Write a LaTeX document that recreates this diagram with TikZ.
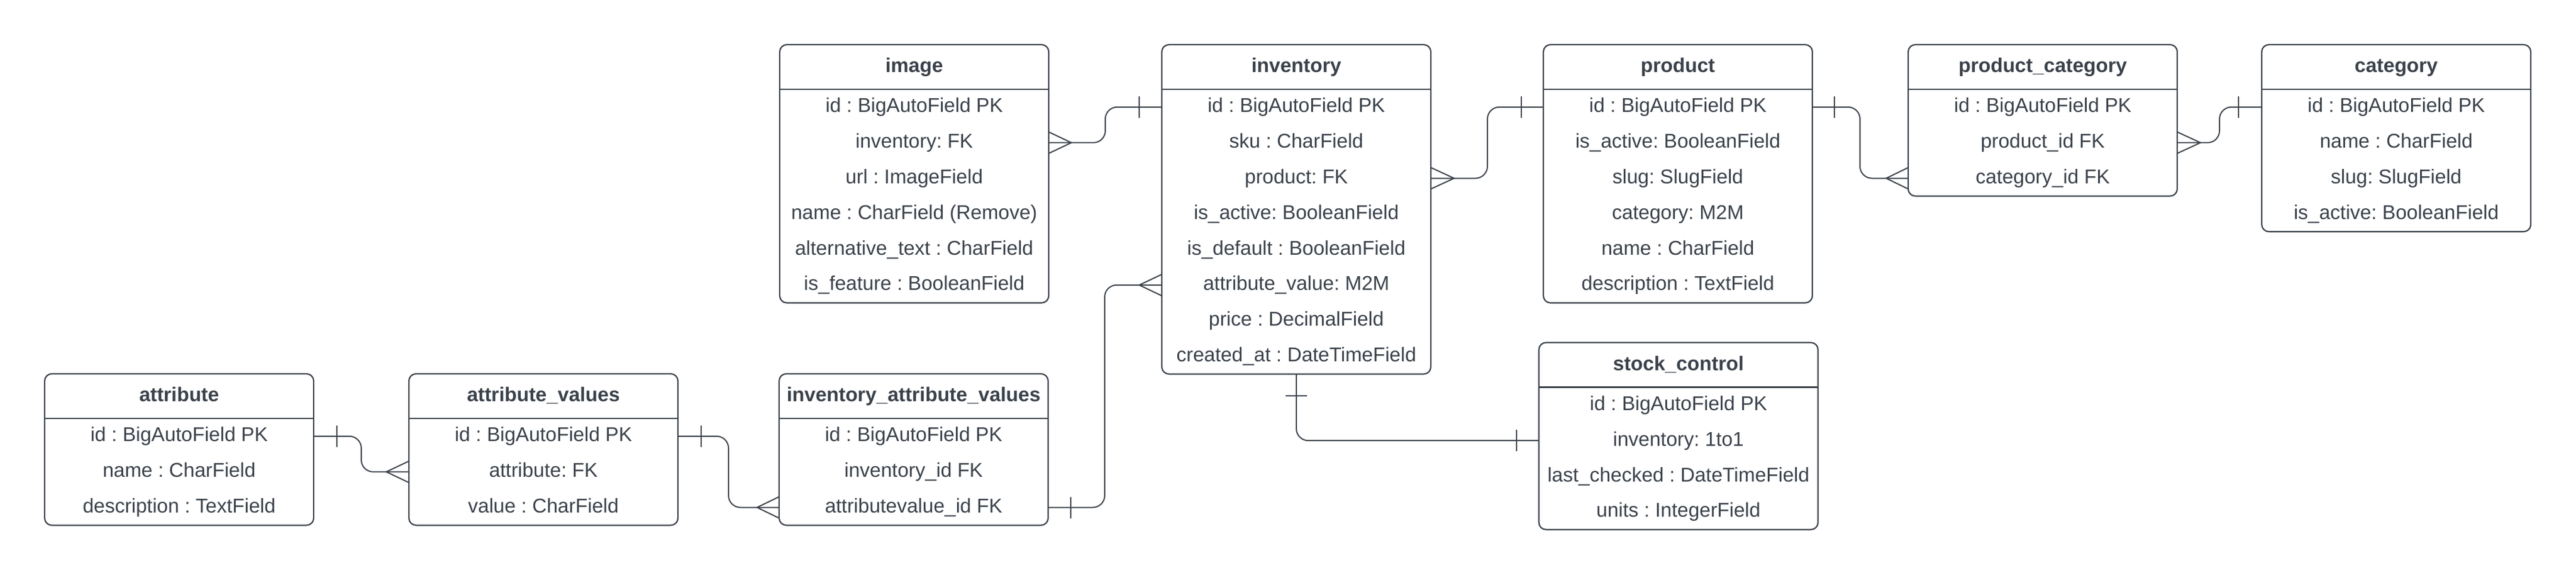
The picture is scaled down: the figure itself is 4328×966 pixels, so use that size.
\documentclass[tikz,border=0pt]{standalone}
\usepackage{fontspec}
\setmainfont{Liberation Sans}
\usetikzlibrary{positioning}
\definecolor{erdink}{HTML}{3A414A}
\frenchspacing

\begin{document}
\begin{tikzpicture}[x=1pt, y=-1pt,
	tablehead/.style={minimum width=452pt, minimum height=75pt, inner sep=0pt, outer sep=0pt, text=erdink,
		font=\fontsize{33.5}{40}\selectfont\bfseries, text height=25pt, text depth=7pt},
	tablerow/.style={minimum width=452pt, minimum height=59.8pt, inner sep=0pt, outer sep=0pt, text=erdink,
		font=\fontsize{33.5}{40}\selectfont, text height=25pt, text depth=7pt},
	tableframe/.style={draw=erdink, line width=2.2pt, rounded corners=12pt},
	tablesep/.style={draw=erdink, line width=2.8pt},
	link/.style={draw=erdink, line width=2pt}]
			\useasboundingbox (0,0) rectangle (4328,966);

			% Table image
			\node[tablehead] (img) at (1536, 112.5) {image};
			\node[tablerow, below=0pt of img] (img-1) {id : BigAutoField PK};
			\node[tablerow, below=0pt of img-1] (img-2) {inventory: FK};
			\node[tablerow, below=0pt of img-2] (img-3) {url : ImageField};
			\node[tablerow, below=0pt of img-3] (img-4) {name : CharField (Remove)};
			\node[tablerow, below=0pt of img-4] (img-5) {alternative\_text : CharField};
			\node[tablerow, below=0pt of img-5] (img-6) {is\_feature : BooleanField};
			\draw[tableframe] (img.north west) rectangle (img-6.south east);
			\draw[tablesep] (img.south west) -- (img.south east);

			% Table inventory
			\node[tablehead] (inv) at (2178, 112.5) {inventory};
			\node[tablerow, below=0pt of inv] (inv-1) {id : BigAutoField PK};
			\node[tablerow, below=0pt of inv-1] (inv-2) {sku : CharField};
			\node[tablerow, below=0pt of inv-2] (inv-3) {product: FK};
			\node[tablerow, below=0pt of inv-3] (inv-4) {is\_active: BooleanField};
			\node[tablerow, below=0pt of inv-4] (inv-5) {is\_default : BooleanField};
			\node[tablerow, below=0pt of inv-5] (inv-6) {attribute\_value: M2M};
			\node[tablerow, below=0pt of inv-6] (inv-7) {price : DecimalField};
			\node[tablerow, below=0pt of inv-7] (inv-8) {created\_at : DateTimeField};
			\draw[tableframe] (inv.north west) rectangle (inv-8.south east);
			\draw[tablesep] (inv.south west) -- (inv.south east);

			% Table product
			\node[tablehead] (prod) at (2819, 112.5) {product};
			\node[tablerow, below=0pt of prod] (prod-1) {id : BigAutoField PK};
			\node[tablerow, below=0pt of prod-1] (prod-2) {is\_active: BooleanField};
			\node[tablerow, below=0pt of prod-2] (prod-3) {slug: SlugField};
			\node[tablerow, below=0pt of prod-3] (prod-4) {category: M2M};
			\node[tablerow, below=0pt of prod-4] (prod-5) {name : CharField};
			\node[tablerow, below=0pt of prod-5] (prod-6) {description : TextField};
			\draw[tableframe] (prod.north west) rectangle (prod-6.south east);
			\draw[tablesep] (prod.south west) -- (prod.south east);

			% Table product_category
			\node[tablehead] (prodcat) at (3432, 112.5) {product\_category};
			\node[tablerow, below=0pt of prodcat] (prodcat-1) {id : BigAutoField PK};
			\node[tablerow, below=0pt of prodcat-1] (prodcat-2) {product\_id FK};
			\node[tablerow, below=0pt of prodcat-2] (prodcat-3) {category\_id FK};
			\draw[tableframe] (prodcat.north west) rectangle (prodcat-3.south east);
			\draw[tablesep] (prodcat.south west) -- (prodcat.south east);

			% Table category
			\node[tablehead] (cat) at (4026, 112.5) {category};
			\node[tablerow, below=0pt of cat] (cat-1) {id : BigAutoField PK};
			\node[tablerow, below=0pt of cat-1] (cat-2) {name : CharField};
			\node[tablerow, below=0pt of cat-2] (cat-3) {slug: SlugField};
			\node[tablerow, below=0pt of cat-3] (cat-4) {is\_active: BooleanField};
			\draw[tableframe] (cat.north west) rectangle (cat-4.south east);
			\draw[tablesep] (cat.south west) -- (cat.south east);

			% Table stock_control
			\node[tablehead, minimum width=469pt] (stock) at (2820, 613) {stock\_control};
			\node[tablerow, minimum width=469pt, below=0pt of stock] (stock-1) {id : BigAutoField PK};
			\node[tablerow, minimum width=469pt, below=0pt of stock-1] (stock-2) {inventory: 1to1};
			\node[tablerow, minimum width=469pt, below=0pt of stock-2] (stock-3) {last\_checked : DateTimeField};
			\node[tablerow, minimum width=469pt, below=0pt of stock-3] (stock-4) {units : IntegerField};
			\draw[tableframe] (stock.north west) rectangle (stock-4.south east);
			\draw[tablesep] (stock.south west) -- (stock.south east);

			% Table attribute
			\node[tablehead] (attr) at (301, 665.5) {attribute};
			\node[tablerow, below=0pt of attr] (attr-1) {id : BigAutoField PK};
			\node[tablerow, below=0pt of attr-1] (attr-2) {name : CharField};
			\node[tablerow, below=0pt of attr-2] (attr-3) {description : TextField};
			\draw[tableframe] (attr.north west) rectangle (attr-3.south east);
			\draw[tablesep] (attr.south west) -- (attr.south east);

			% Table attribute_values
			\node[tablehead] (attrval) at (913, 665.5) {attribute\_values};
			\node[tablerow, below=0pt of attrval] (attrval-1) {id : BigAutoField PK};
			\node[tablerow, below=0pt of attrval-1] (attrval-2) {attribute: FK};
			\node[tablerow, below=0pt of attrval-2] (attrval-3) {value : CharField};
			\draw[tableframe] (attrval.north west) rectangle (attrval-3.south east);
			\draw[tablesep] (attrval.south west) -- (attrval.south east);

			% Table inventory_attribute_values
			\node[tablehead] (invattr) at (1535, 665.5) {inventory\_attribute\_values};
			\node[tablerow, below=0pt of invattr] (invattr-1) {id : BigAutoField PK};
			\node[tablerow, below=0pt of invattr-1] (invattr-2) {inventory\_id FK};
			\node[tablerow, below=0pt of invattr-2] (invattr-3) {attributevalue\_id FK};
			\draw[tableframe] (invattr.north west) rectangle (invattr-3.south east);
			\draw[tablesep] (invattr.south west) -- (invattr.south east);

			% Links
			\draw[link, rounded corners=20pt] (img-2.east) -- ++(95,0) |- (inv-1.west);
			\draw[link, rounded corners=20pt] (inv-3.east) -- ++(95,0) |- (prod-1.west);
			\draw[link, rounded corners=20pt] (prod-1.east) -- ++(80,0) |- (prodcat-3.west);
			\draw[link, rounded corners=20pt] (cat-1.west) -- ++(-71,0) |- (prodcat-2.east);
			\draw[link, rounded corners=20pt] (attr-1.east) -- ++(80,0) |- (attrval-2.west);
			\draw[link, rounded corners=20pt] (attrval-1.east) -- ++(85,0) |- (invattr-3.west);
			\draw[link, rounded corners=20pt] (invattr-3.east) -- ++(95,0) |- (inv-6.west);
			\draw[link, rounded corners=20pt] (inv-8.south) |- (stock-2.west);

			% One marks
			\draw[link] ([xshift=-38pt, yshift=18pt]inv-1.west) -- ([xshift=-38pt, yshift=-18pt]inv-1.west);
			\draw[link] ([xshift=-37pt, yshift=18pt]prod-1.west) -- ([xshift=-37pt, yshift=-18pt]prod-1.west);
			\draw[link] ([xshift=37pt, yshift=18pt]prod-1.east) -- ([xshift=37pt, yshift=-18pt]prod-1.east);
			\draw[link] ([xshift=-39pt, yshift=18pt]cat-1.west) -- ([xshift=-39pt, yshift=-18pt]cat-1.west);
			\draw[link] ([xshift=39pt, yshift=18pt]attr-1.east) -- ([xshift=39pt, yshift=-18pt]attr-1.east);
			\draw[link] ([xshift=39pt, yshift=18pt]attrval-1.east) -- ([xshift=39pt, yshift=-18pt]attrval-1.east);
			\draw[link] ([xshift=38pt, yshift=18pt]invattr-3.east) -- ([xshift=38pt, yshift=-18pt]invattr-3.east);
			\draw[link] ([xshift=-18pt, yshift=-37pt]inv-8.south) -- ([xshift=18pt, yshift=-37pt]inv-8.south);
			\draw[link] ([xshift=-38pt, yshift=18pt]stock-2.west) -- ([xshift=-38pt, yshift=-18pt]stock-2.west);

			% Many marks
			\draw[link] ([yshift=18pt]img-2.east) -- ([xshift=38pt]img-2.east) -- ([yshift=-18pt]img-2.east);
			\draw[link] ([yshift=18pt]inv-3.east) -- ([xshift=39pt]inv-3.east) -- ([yshift=-18pt]inv-3.east);
			\draw[link] ([yshift=18pt]prodcat-3.west) -- ([xshift=-37pt]prodcat-3.west) -- ([yshift=-18pt]prodcat-3.west);
			\draw[link] ([yshift=18pt]prodcat-2.east) -- ([xshift=39pt]prodcat-2.east) -- ([yshift=-18pt]prodcat-2.east);
			\draw[link] ([yshift=18pt]attrval-2.west) -- ([xshift=-38pt]attrval-2.west) -- ([yshift=-18pt]attrval-2.west);
			\draw[link] ([yshift=18pt]invattr-3.west) -- ([xshift=-37pt]invattr-3.west) -- ([yshift=-18pt]invattr-3.west);
			\draw[link] ([yshift=18pt]inv-6.west) -- ([xshift=-38pt]inv-6.west) -- ([yshift=-18pt]inv-6.west);
		\end{tikzpicture}
\end{document}
